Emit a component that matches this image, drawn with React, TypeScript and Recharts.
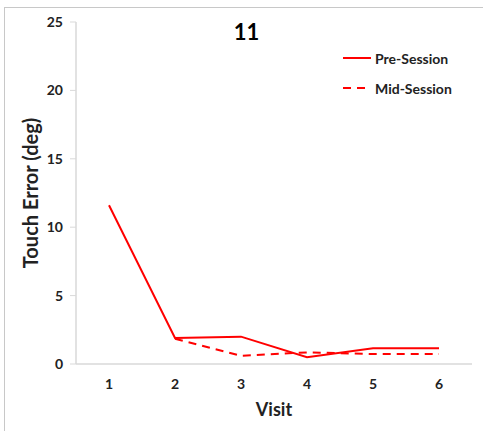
import React from 'react';
import { LineChart, Line, XAxis, YAxis } from 'recharts';

const visits = ['1', '2', '3', '4', '5', '6'];
const preSession = [11.6, 1.9, 2.0, 0.5, 1.15, 1.15];
const midSession: (number | null)[] = [null, 1.85, 0.6, 0.85, 0.73, 0.73];
const yTicks = [0, 5, 10, 15, 20, 25];

const data = visits.map((v, i) => ({ visit: v, pre: preSession[i], mid: midSession[i] }));

const font = 'Lato, "Open Sans", sans-serif';

const legendItems = [
  { label: 'Pre-Session', dash: undefined },
  { label: 'Mid-Session', dash: '8 6' },
];

const App: React.FC = () => {
  return (
    <div style={{ position: 'absolute', left: 0, top: 0, width: 483, height: 431, background: '#fff' }}>
      <div
        style={{
          position: 'absolute',
          left: 4,
          top: 7,
          width: 479,
          height: 424,
          borderLeft: '1px solid #c8c8c8',
          borderTop: '1px solid #c8c8c8',
        }}
      />
      <div
        style={{
          position: 'absolute',
          left: 0,
          width: 483,
          top: 18,
          textAlign: 'center',
          paddingLeft: 10,
          boxSizing: 'border-box',
          fontFamily: font,
          fontWeight: 700,
          fontSize: 22,
          color: '#000',
        }}
      >
        11
      </div>
      <div
        style={{
          position: 'absolute',
          left: 342,
          top: 43,
          fontFamily: font,
          fontWeight: 700,
          fontSize: 14,
          color: '#222',
          zIndex: 2,
        }}
      >
        {legendItems.map((item) => (
          <div key={item.label} style={{ display: 'flex', alignItems: 'center', height: 30 }}>
            <svg width={30} height={10} style={{ marginRight: 3 }}>
              <line x1={1} y1={5} x2={29} y2={5} stroke="#ff0000" strokeWidth={2} strokeDasharray={item.dash} />
            </svg>
            <span>{item.label}</span>
          </div>
        ))}
      </div>
      <LineChart width={483} height={431} data={data} margin={{ top: 22, right: 11, bottom: 37, left: 36 }}>
        <XAxis
          dataKey="visit"
          padding={{ left: 33, right: 33 }}
          axisLine={{ stroke: '#d9d9d9', strokeWidth: 1.5 }}
          tickLine={false}
          tickSize={0}
          tickMargin={15}
          tick={{ fill: '#222', fontSize: 14, fontWeight: 700, fontFamily: font }}
          height={30}
          label={{
            value: 'Visit',
            position: 'insideBottom',
            offset: -22,
            style: { fill: '#222', fontSize: 18, fontWeight: 700, fontFamily: font },
          }}
        />
        <YAxis
          domain={[0, 25]}
          ticks={yTicks}
          interval={0}
          width={40}
          axisLine={{ stroke: '#d9d9d9', strokeWidth: 1.5 }}
          tickLine={{ stroke: '#d9d9d9' }}
          tickSize={6}
          tickMargin={7}
          tick={{ fill: '#222', fontSize: 14, fontWeight: 700, fontFamily: font }}
          label={{
            value: 'Touch Error (deg)',
            angle: -90,
            position: 'insideLeft',
            offset: -5,
            style: { fill: '#222', fontSize: 20, fontWeight: 700, fontFamily: font, textAnchor: 'middle' },
          }}
        />
        <Line
          type="linear"
          dataKey="pre"
          name="Pre-Session"
          stroke="#ff0000"
          strokeWidth={2}
          dot={false}
          activeDot={false}
          isAnimationActive={false}
        />
        <Line
          type="linear"
          dataKey="mid"
          name="Mid-Session"
          stroke="#ff0000"
          strokeWidth={2}
          strokeDasharray="8 6"
          dot={false}
          activeDot={false}
          isAnimationActive={false}
        />
      </LineChart>
    </div>
  );
};

export default App;
